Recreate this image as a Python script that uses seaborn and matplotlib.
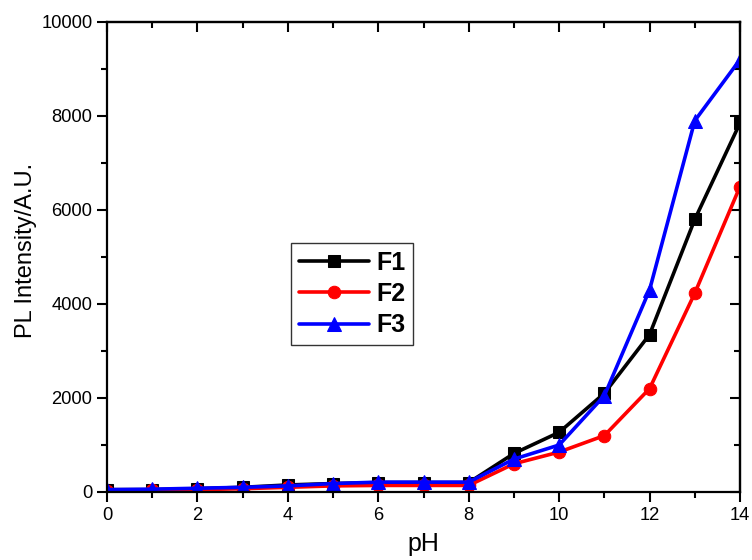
import matplotlib
matplotlib.use("Agg")
import matplotlib.pyplot as plt
import seaborn as sns
import pandas as pd
from matplotlib.ticker import MultipleLocator

ph = [0, 1, 2, 3, 4, 5, 6, 7, 8, 9, 10, 11, 12, 13, 14]
f1 = [50, 50, 70, 100, 150, 180, 200, 200, 200, 820, 1270, 2100, 3350, 5800, 7850]
f2 = [30, 40, 50, 70, 100, 130, 140, 140, 140, 600, 850, 1200, 2200, 4230, 6500]
f3 = [50, 60, 80, 100, 130, 180, 210, 210, 210, 700, 1000, 2050, 4300, 7900, 9200]
series_names = ["F1", "F2", "F3"]
colors = ["#000000", "#ff0000", "#0000ff"]
markers = ["s", "o", "^"]

df = pd.DataFrame({
    "pH": ph * 3,
    "value": f1 + f2 + f3,
    "series": sum([[n] * len(ph) for n in series_names], []),
})

sns.set_style("ticks")
plt.rcParams["font.family"] = ["Liberation Sans", "DejaVu Sans"]
plt.rcParams["text.color"] = "black"
plt.rcParams["axes.labelcolor"] = "black"
plt.rcParams["xtick.color"] = "black"
plt.rcParams["ytick.color"] = "black"

fig = plt.figure(figsize=(7.52, 5.60), dpi=100)
ax = fig.add_axes([107 / 752, 68 / 560, 633 / 752, 470 / 560])

sizes = [8, 9, 10]
for name, c, m, ms in zip(series_names, colors, markers, sizes):
    sns.lineplot(data=df[df["series"] == name], x="pH", y="value", color=c,
                 marker=m, markersize=ms, markeredgecolor=c, linewidth=2.6,
                 label=name, ax=ax, clip_on=True)

ax.set_xlim(0, 14)
ax.set_ylim(0, 10000)
ax.xaxis.set_major_locator(MultipleLocator(2))
ax.xaxis.set_minor_locator(MultipleLocator(1))
ax.yaxis.set_major_locator(MultipleLocator(2000))
ax.yaxis.set_minor_locator(MultipleLocator(1000))

for s in ax.spines.values():
    s.set_linewidth(1.6)
    s.set_color("black")

ax.tick_params(axis="both", which="major", direction="out", length=7, width=1.5,
               labelsize=13.2, colors="black")
ax.tick_params(axis="both", which="minor", direction="out", length=4, width=1.5)
ax.tick_params(axis="both", which="both", top=False, right=False)

# mirrored ticks on top and right, pointing inward
secx = ax.secondary_xaxis("top")
secx.xaxis.set_major_locator(MultipleLocator(2))
secx.xaxis.set_minor_locator(MultipleLocator(1))
secx.tick_params(which="major", direction="in", length=7, width=1.5, labeltop=False)
secx.tick_params(which="minor", direction="in", length=4, width=1.5)
secx.spines["top"].set_linewidth(1.6)
secy = ax.secondary_yaxis("right")
secy.yaxis.set_major_locator(MultipleLocator(2000))
secy.yaxis.set_minor_locator(MultipleLocator(1000))
secy.tick_params(which="major", direction="in", length=7, width=1.5, labelright=False)
secy.tick_params(which="minor", direction="in", length=4, width=1.5)
secy.spines["right"].set_linewidth(1.6)

ax.set_xlabel("pH", fontsize=18, labelpad=6)
ax.set_ylabel("PL Intensity/A.U.", fontsize=17)
ax.yaxis.set_label_coords(-0.111, 0.515)

leg = ax.legend(loc="upper left", bbox_to_anchor=(184 / 633, (492 - 243) / 470),
                borderaxespad=0, frameon=True, fancybox=False, edgecolor="black",
                handlelength=2.8, handletextpad=0.3, borderpad=0.3,
                labelspacing=0.3, prop={"weight": "bold", "size": 18})
leg.get_frame().set_linewidth(1.0)

fig.savefig("out.png", dpi=100)
